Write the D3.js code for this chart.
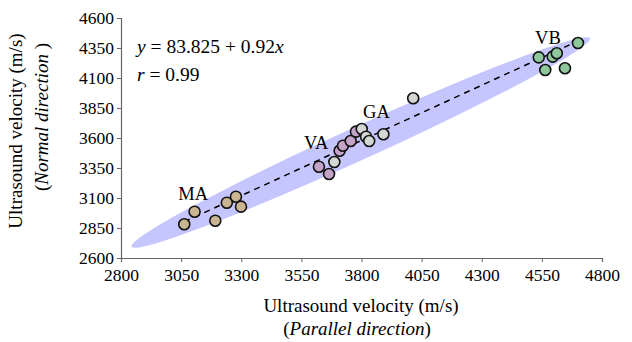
<!DOCTYPE html>
<html>
<head>
<meta charset="utf-8">
<script src="https://cdn.jsdelivr.net/npm/d3@7"></script>
<style>
  body { margin: 0; background: #fff; }
  svg { display: block; }
  svg text { font-family: "Liberation Serif", "DejaVu Serif", serif; }
</style>
</head>
<body>
<div id="chart"></div>
<script>
// ticks
var xTicks = [2800, 3050, 3300, 3550, 3800, 4050, 4300, 4550, 4800];
var yTicks = [2600, 2850, 3100, 3350, 3600, 3850, 4100, 4350, 4600];

// groups (parallel, normal)
var groups = ["MA", "VA", "GA", "VB"];
var groupColors = ["#c9b591", "#c4a3c9", "#d3d6d2", "#8fc79c"];

var maX = [3063, 3106, 3192, 3240, 3278, 3299];
var maY = [2881, 2986, 2911, 3061, 3111, 3028];

var vaX = [3623, 3665, 3709, 3723, 3755, 3777];
var vaY = [3361, 3300, 3494, 3536, 3575, 3653];

var gaX = [3687, 3801, 3819, 3832, 3891, 4015];
var gaY = [3400, 3675, 3611, 3575, 3631, 3931];

var vbX = [4537, 4564, 4595, 4612, 4646, 4700];
var vbY = [4272, 4167, 4278, 4306, 4181, 4392];

// group label positions (data units)
var labelX = [3100, 3612, 3862, 4575];
var labelY = [3080, 3510, 3770, 4380];

// regression
var intercept = 83.825, slope = 0.92;
var fitRange = [3063, 4700];

// band end points (data units)
var bandEnds = [[2844, 2694], [4750, 4431]];

var width = 632, height = 342;
var mLeft = 121, mRight = 602, mTop = 18, mBottom = 258;

var svg = d3.select("#chart").append("svg")
    .attr("width", width)
    .attr("height", height);

var x = d3.scaleLinear().domain([2800, 4800]).range([mLeft, mRight]);
var y = d3.scaleLinear().domain([2600, 4600]).range([mBottom, mTop]);

// shaded band
var bx1 = x(bandEnds[0][0]), by1 = y(bandEnds[0][1]);
var bx2 = x(bandEnds[1][0]), by2 = y(bandEnds[1][1]);
var cx = (bx1 + bx2) / 2, cy = (by1 + by2) / 2;
var ang = Math.atan2(by2 - by1, bx2 - bx1) * 180 / Math.PI;
var rx = Math.hypot(bx2 - bx1, by2 - by1) / 2;
svg.append("ellipse")
    .attr("cx", cx).attr("cy", cy)
    .attr("rx", rx).attr("ry", 16.5)
    .attr("transform", "rotate(" + ang + "," + cx + "," + cy + ")")
    .attr("fill", "#c6c6ff");

// regression line
svg.append("line")
    .attr("x1", x(fitRange[0])).attr("y1", y(intercept + slope * fitRange[0]))
    .attr("x2", x(fitRange[1])).attr("y2", y(intercept + slope * fitRange[1]))
    .attr("stroke", "#000")
    .attr("stroke-width", 1.5)
    .attr("stroke-dasharray", "6,5");

// axes
var xAxis = svg.append("g")
    .attr("transform", "translate(0," + mBottom + ")")
    .call(d3.axisBottom(x).tickValues(xTicks).tickSize(4).tickPadding(7).tickFormat(d3.format("d")));
var yAxis = svg.append("g")
    .attr("transform", "translate(" + mLeft + ",0)")
    .call(d3.axisLeft(y).tickValues(yTicks).tickSize(4).tickPadding(3).tickFormat(d3.format("d")));

[xAxis, yAxis].forEach(function(a) {
  a.attr("font-family", null).attr("font-size", 17.5);
  a.select(".domain").attr("stroke", "#666").attr("stroke-width", 1.2);
  a.selectAll(".tick line").attr("stroke", "#666");
  a.selectAll(".tick text").attr("fill", "#000");
});

// points
var allX = [maX, vaX, gaX, vbX], allY = [maY, vaY, gaY, vbY];
groups.forEach(function(g, i) {
  var pts = allX[i].map(function(v, j) { return [v, allY[i][j]]; });
  svg.append("g").selectAll("circle")
    .data(pts)
    .enter().append("circle")
    .attr("cx", function(d) { return x(d[0]); })
    .attr("cy", function(d) { return y(d[1]); })
    .attr("r", 5.5)
    .attr("fill", groupColors[i])
    .attr("stroke", "#111")
    .attr("stroke-width", 1.6);

  svg.append("text")
    .attr("x", x(labelX[i]))
    .attr("y", y(labelY[i]))
    .attr("text-anchor", "middle")
    .attr("font-size", 18.5)
    .text(g);
});

// equation
var eq = svg.append("text").attr("x", 137).attr("y", 53).attr("font-size", 19.5);
eq.append("tspan").attr("font-style", "italic").text("y");
eq.append("tspan").text(" = 83.825 + 0.92");
eq.append("tspan").attr("font-style", "italic").text("x");
var rr = svg.append("text").attr("x", 137).attr("y", 81).attr("font-size", 19.5);
rr.append("tspan").attr("font-style", "italic").text("r");
rr.append("tspan").text(" = 0.99");

// axis titles
svg.append("text")
    .attr("x", 361).attr("y", 312)
    .attr("text-anchor", "middle")
    .attr("font-size", 19)
    .text("Ultrasound velocity (m/s)");
var px = svg.append("text")
    .attr("x", 357).attr("y", 335)
    .attr("text-anchor", "middle")
    .attr("font-size", 19);
px.append("tspan").text("(");
px.append("tspan").attr("font-style", "italic").text("Parallel direction");
px.append("tspan").text(")");

svg.append("text")
    .attr("transform", "translate(22,131) rotate(-90)")
    .attr("text-anchor", "middle")
    .attr("font-size", 19)
    .text("Ultrasound velocity (m/s)");
var ny = svg.append("text")
    .attr("transform", "translate(48,117) rotate(-90)")
    .attr("text-anchor", "middle")
    .attr("font-size", 19);
ny.append("tspan").text("(");
ny.append("tspan").attr("font-style", "italic").text("Normal direction");
ny.append("tspan").text(" )");
</script>
</body>
</html>
